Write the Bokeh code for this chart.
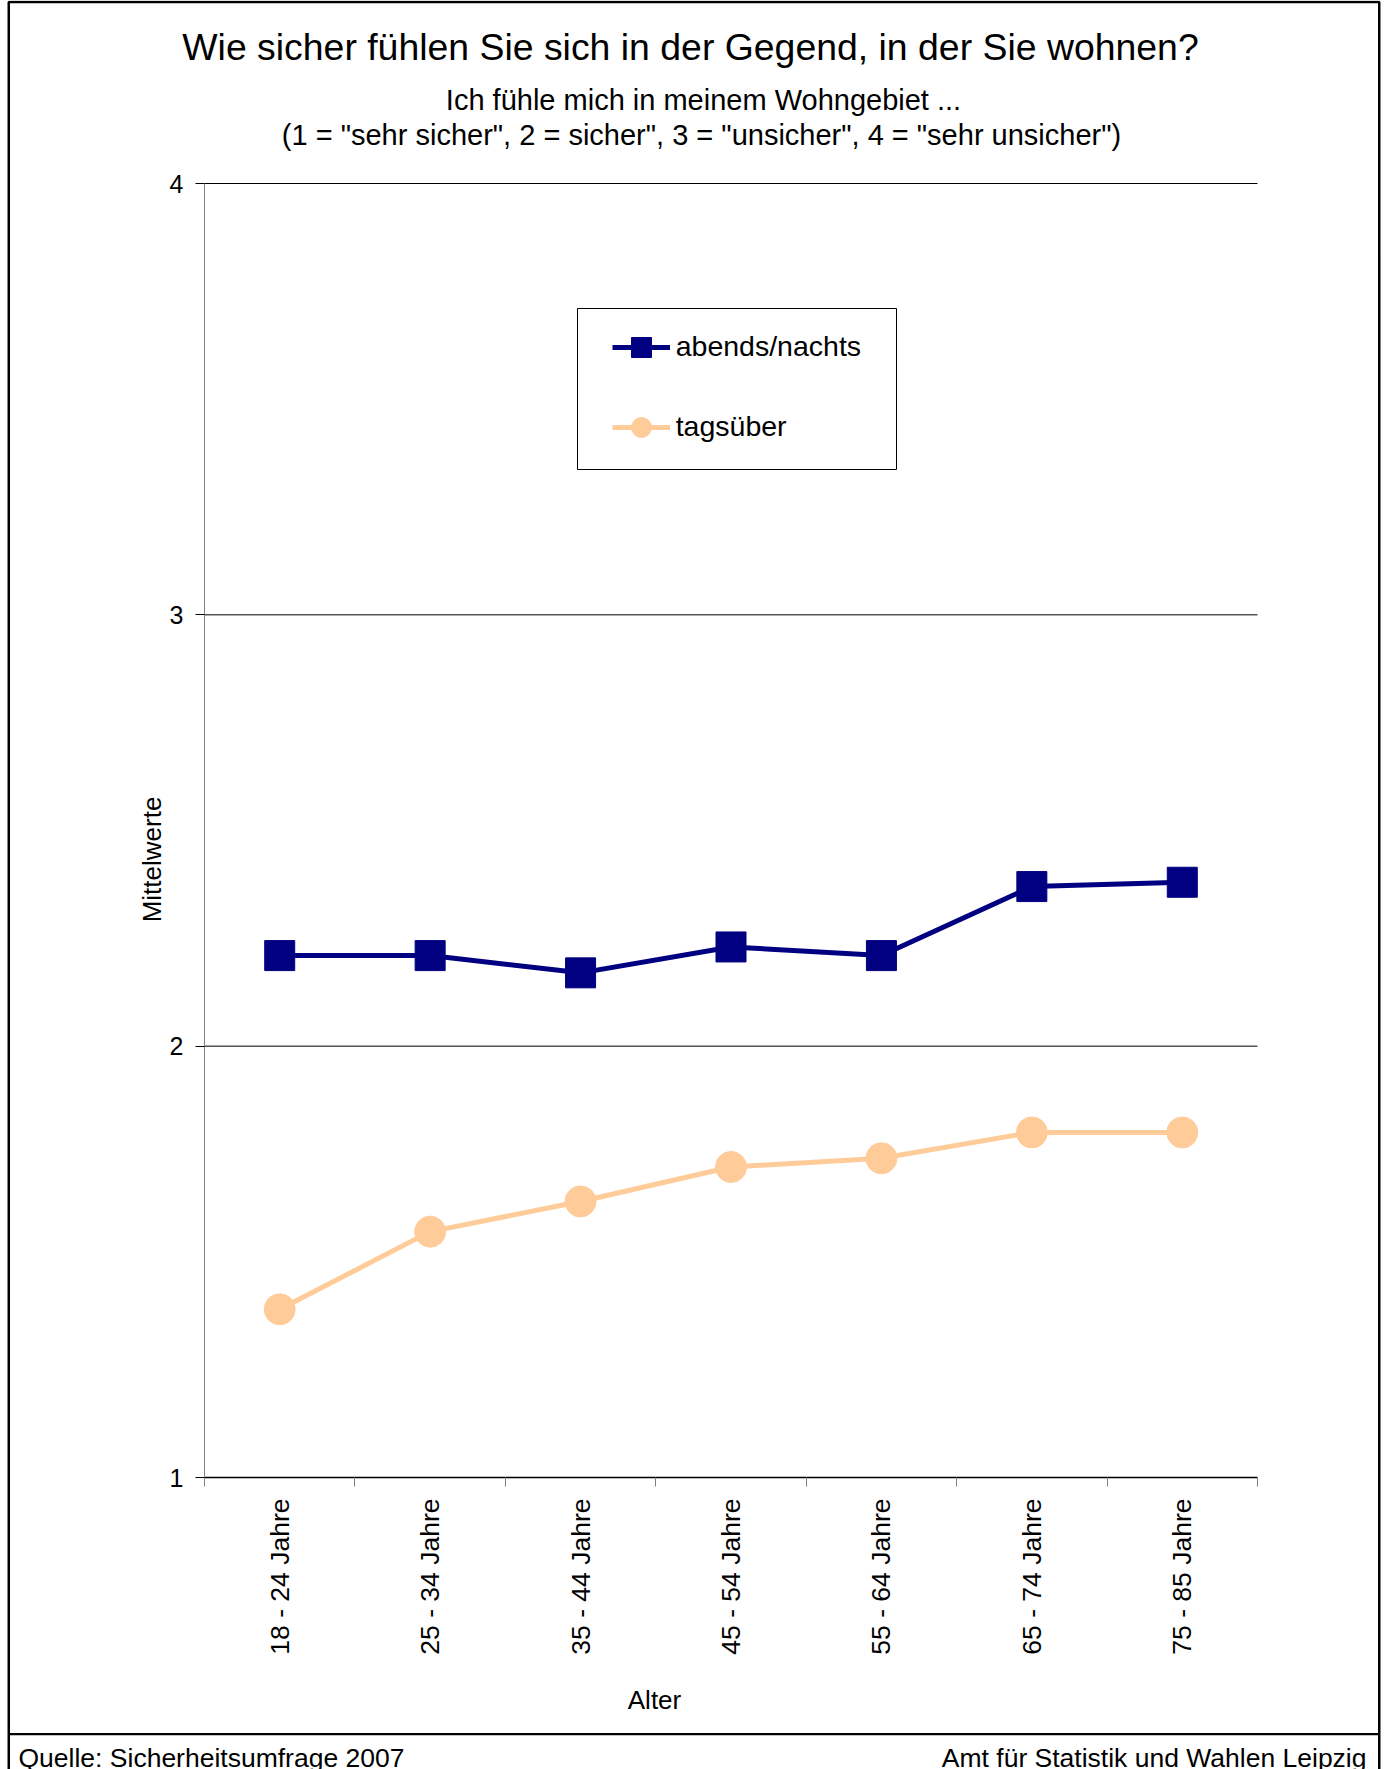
import math
from bokeh.plotting import figure
from bokeh.models import (Range1d, FixedTicker, Label, Legend, LegendItem, BoxAnnotation)
from bokeh.embed import file_html
from bokeh.resources import INLINE

# ---------------- data ----------------
categories = ["18 - 24 Jahre", "25 - 34 Jahre", "35 - 44 Jahre", "45 - 54 Jahre",
              "55 - 64 Jahre", "65 - 74 Jahre", "75 - 85 Jahre"]
abends_nachts = [2.21, 2.21, 2.17, 2.23, 2.21, 2.37, 2.38]
tagsueber = [1.39, 1.57, 1.64, 1.72, 1.74, 1.80, 1.80]
y_ticks = [1, 2, 3, 4]

title_text = "Wie sicher fühlen Sie sich in der Gegend, in der Sie wohnen?"
subtitle_1 = "Ich fühle mich in meinem Wohngebiet ..."
subtitle_2 = '(1 = "sehr sicher", 2 = sicher", 3 = "unsicher", 4 = "sehr unsicher")'
y_label = "Mittelwerte"
x_label = "Alter"
footer_left = "Quelle: Sicherheitsumfrage 2007"
footer_right = "Amt für Statistik und Wahlen Leipzig"

FONT = "Liberation Sans"
NAVY = "#000080"
PEACH = "#FFCC99"

# ---------------- layout (page pixels) ----------------
W, H = 1385, 1769
FL, FR, FT, FB = 204, 1257, 183, 1477     # plot area edges

n = len(categories)
xpos = [i + 0.5 for i in range(n)]
ux = (FR - FL) / n
uy = (FB - FT) / (y_ticks[-1] - y_ticks[0])
x_range = Range1d(-FL / ux, n + (W - FR) / ux)
y_range = Range1d(y_ticks[0] - (H - FB) / uy, y_ticks[-1] + FT / uy)

p = figure(width=W, height=H, output_backend="svg", toolbar_location=None,
           x_range=x_range, y_range=y_range, min_border=0)
p.outline_line_color = None
p.background_fill_color = "white"
p.border_fill_color = "white"
p.grid.visible = False


def sy(page_y):  # screen units: measured upward from the frame bottom
    return H - page_y


# axes pinned to the plot area
xa = p.xaxis[0]
xa.fixed_location = y_ticks[0]
xa.bounds = (0, n)
xa.ticker = FixedTicker(ticks=xpos, minor_ticks=list(range(n + 1)))
xa.major_label_overrides = {float(x): c for x, c in zip(xpos, categories)}
xa.major_label_orientation = math.pi / 2
xa.major_label_text_font = FONT
xa.major_label_text_font_size = "26.5px"
xa.major_label_text_color = "black"
xa.major_tick_line_color = None
xa.major_tick_out = 9
xa.major_tick_in = 0
xa.major_label_standoff = 12
xa.minor_tick_out = 9
xa.minor_tick_in = 0
xa.minor_tick_line_color = "#808080"
xa.axis_line_color = "black"
xa.axis_line_width = 1.5

ya = p.yaxis[0]
ya.fixed_location = 0
ya.bounds = (y_ticks[0], y_ticks[-1])
ya.ticker = FixedTicker(ticks=y_ticks)
ya.major_label_text_font = FONT
ya.major_label_text_font_size = "25px"
ya.major_label_text_color = "black"
ya.major_tick_out = 9
ya.major_tick_in = 0
ya.major_tick_line_color = "black"
ya.minor_tick_line_color = None
ya.major_label_standoff = 12
ya.axis_line_color = "#808080"

# horizontal gridlines at the upper ticks
grid_y = y_ticks[1:]
p.segment(x0=[0] * len(grid_y), x1=[n] * len(grid_y), y0=grid_y, y1=grid_y,
          line_color="black", line_width=1)

# series
l1 = p.line(xpos, abends_nachts, line_color=NAVY, line_width=5)
s1 = p.scatter(xpos, abends_nachts, marker="square", size=30,
               fill_color=NAVY, line_color=NAVY)
l2 = p.line(xpos, tagsueber, line_color=PEACH, line_width=5)
s2 = p.scatter(xpos, tagsueber, marker="circle", size=31,
               fill_color=PEACH, line_color=PEACH)

# legend (location = bottom-left corner from frame bottom-left)
legend = Legend(items=[LegendItem(label="abends/nachts", renderers=[l1, s1]),
                       LegendItem(label="tagsüber", renderers=[l2, s2])],
                location=(611.7, sy(451.7)),
                glyph_width=58, glyph_height=50, label_height=50,
                spacing=30, padding=0, margin=0, label_standoff=6,
                label_text_font=FONT, label_text_font_size="28.5px",
                label_text_color="black",
                border_line_color=None, background_fill_alpha=0)
p.add_layout(legend, "center")


def box(left, right, top, bottom, **kw):
    p.add_layout(BoxAnnotation(left=left, right=right, top=sy(top), bottom=sy(bottom),
                               left_units="screen", right_units="screen",
                               top_units="screen", bottom_units="screen", **kw))


box(577, 896, 308, 469, fill_alpha=0, line_color="black", line_alpha=1, line_width=1)
box(8.25, 1378.75, 1.5, H + 40, fill_alpha=0, line_color="black", line_alpha=1,
    line_width=2.5)
box(8.25, 1378.75, 1732.5, 1734.7, fill_color="black", fill_alpha=1, line_color=None)


def add_text(text, x, y, size, align="center", baseline="alphabetic", angle=0.0):
    p.add_layout(Label(x=x, y=sy(y), x_units="screen", y_units="screen",
                       text=text, text_font=FONT, text_font_size=size,
                       text_color="black", text_align=align,
                       text_baseline=baseline, angle=angle))


add_text(title_text, 690, 46, "37.4px")
add_text(subtitle_1, 703, 99, "29px")
add_text(subtitle_2, 701, 134, "29px")
add_text(y_label, 151, 859, "26px", baseline="middle", angle=math.pi / 2)
add_text(x_label, 654, 1699, "26px")
add_text(footer_left, 18, 1757, "26.5px", align="left")
add_text(footer_right, 1366, 1757, "26.5px", align="right")

open("out.html", "w").write(file_html(p, INLINE))
